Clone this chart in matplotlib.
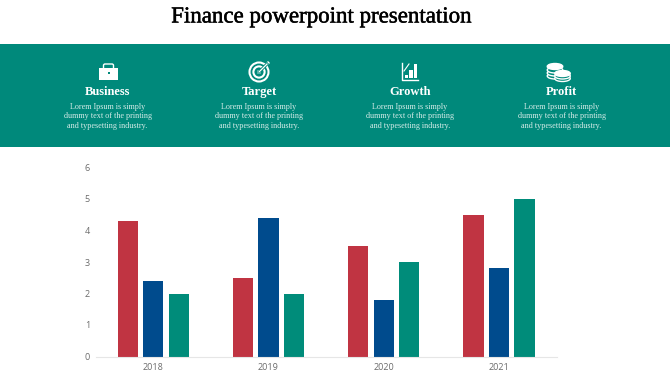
import matplotlib
matplotlib.use("Agg")
import matplotlib.pyplot as plt
import matplotlib.patheffects as pe
from matplotlib.patches import Rectangle, Circle, Ellipse, FancyBboxPatch, Polygon

years = ["2018", "2019", "2020", "2021"]
red_vals = [4.3, 2.5, 3.5, 4.5]
blue_vals = [2.4, 4.4, 1.8, 2.8]
green_vals = [2.0, 2.0, 3.0, 5.0]
yticks = [0, 1, 2, 3, 4, 5, 6]

title = "Finance powerpoint presentation"
headings = ["Business", "Target", "Growth", "Profit"]
body = "Lorem Ipsum is simply\ndummy text of the printing\nand typesetting industry."
heading_x = [107.5, 259, 410, 561.5]

teal = "#00897b"
serif = "Liberation Serif"
W, H = 670, 376

fig = plt.figure(figsize=(W / 100, H / 100), dpi=100)

# overlay in pixel coordinates for banner, text and icons
bg = fig.add_axes([0, 0, 1, 1])
bg.set_xlim(0, W)
bg.set_ylim(H, 0)
bg.axis("off")
bg.add_patch(Rectangle((0, 44), W, 103, color=teal, lw=0))
t = bg.text(321, 17, title, ha="center", va="center", fontsize=16.5, family=serif, color="black")
t.set_path_effects([pe.withStroke(linewidth=0.35, foreground="black")])
for x, h in zip(heading_x, headings):
    bg.text(x, 92, h, ha="center", va="center", fontsize=9, family=serif, weight="bold", color="white")
    bg.text(x, 116.2, body, ha="center", va="center", fontsize=5.9, family=serif, color="#d5ece8", linespacing=1.22)


def briefcase(cx, cy):
    bg.add_patch(FancyBboxPatch((cx - 5, cy - 8), 10, 6, boxstyle="round,pad=0,rounding_size=1.5", fc="none", ec="white", lw=1))
    bg.add_patch(Rectangle((cx - 9.5, cy - 4), 19, 4.5, color="white", lw=0))
    bg.add_patch(Rectangle((cx - 9.5, cy + 1.3), 19, 6.5, color="white", lw=0))
    bg.add_patch(Rectangle((cx - 1, cy - 0.5), 2, 2.5, color=teal, lw=0))


def target(cx, cy):
    bg.add_patch(Circle((cx, cy), 9.5, fc="none", ec="white", lw=1.5))
    bg.add_patch(Circle((cx, cy), 5.6, fc="none", ec="white", lw=1.5))
    bg.add_patch(Circle((cx, cy), 2, fc="white", ec="none"))
    bg.plot([cx, cx + 8], [cy, cy - 8], color=teal, lw=2.2)
    bg.plot([cx, cx + 8], [cy, cy - 8], color="white", lw=0.9)
    bg.add_patch(Polygon([(cx + 6, cy - 8), (cx + 9, cy - 11), (cx + 10, cy - 10), (cx + 11, cy - 9), (cx + 8, cy - 6)], color="white", lw=0))


def growth(cx, cy):
    bg.plot([cx - 8.5, cx - 8.5, cx + 8], [cy - 9.5, cy + 8, cy + 8], color="white", lw=1)
    for dx, top in zip([-5.5, -0.8, 3.6], [2.5, -2, -8.5]):
        bg.add_patch(Rectangle((cx + dx, cy + top), 3.3, 6.3 - top, color="white", lw=0))
    bg.plot([cx - 6, cx - 1], [cy - 1, cy - 8], color="white", lw=0.8)


def coins(cx, cy):
    # left stack, then right stack drawn over it
    for ox, oys in [(-3.5, [4, 1, -2, -5.5]), (4, [6.5, 4, 1.5])]:
        for oy in oys:
            bg.add_patch(Ellipse((cx + ox, cy + oy), 15.5, 6, fc=teal, ec="white", lw=1))
        bg.add_patch(Ellipse((cx + ox, cy + oys[-1]), 15.5, 6, color="white", lw=0))


briefcase(108.5, 72)
target(259, 72)
growth(410, 72)
coins(558.5, 72)

# bar chart, axes box from x 95.6-556.6 px and y 167.5-356.5 px
ax = fig.add_axes([95.6 / W, 1 - 356.5 / H, 461 / W, 189 / H])
ax.patch.set_alpha(0)
pos = list(range(len(years)))
offset = 0.221
width = 0.175
ax.bar([p - offset for p in pos], red_vals, width, color="#c03442")
ax.bar(pos, blue_vals, width, color="#004b8d")
ax.bar([p + offset for p in pos], green_vals, width, color="#008c7a")
ax.set_xlim(-0.5, 3.5)
ax.set_ylim(0, 6)
ax.set_xticks(pos, years)
ax.set_yticks(yticks)
ax.tick_params(length=0, labelsize=6.5, labelcolor="#6b6b6b")
ax.tick_params(axis="x", pad=5)
ax.tick_params(axis="y", pad=4)
for name in ["top", "right", "left"]:
    ax.spines[name].set_visible(False)
ax.spines["bottom"].set_color("#e6e6e6")
for lab in ax.get_xticklabels() + ax.get_yticklabels():
    lab.set_family("Open Sans")

fig.savefig("out.png", dpi=100)
